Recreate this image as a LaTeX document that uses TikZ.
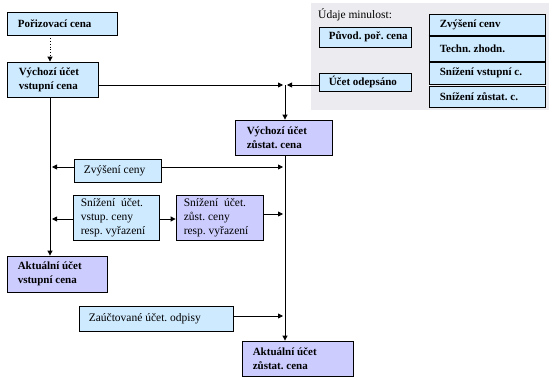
\documentclass[tikz,border=0pt]{standalone}
\usepackage{fontspec}
\setmainfont{Liberation Serif}
\usetikzlibrary{arrows.meta,calc}
\definecolor{lblue}{RGB}{206,234,255}
\definecolor{lav}{RGB}{204,204,255}
\definecolor{bgray}{RGB}{236,236,240}
\tikzset{
  bx/.style={draw=black, line width=0.8pt, inner sep=0pt, anchor=center},
  bt/.style={font=\fontsize{11}{14}\selectfont\bfseries\frenchspacing, align=left, anchor=west, inner sep=0pt},
  nt/.style={font=\fontsize{11.5}{14}\selectfont\frenchspacing, align=left, anchor=west, inner sep=0pt},
  arr/.style={line width=0.8pt, -{Triangle[length=5pt,width=5pt]}},
}
\begin{document}
\begin{tikzpicture}[x=1pt,y=-1pt]
\useasboundingbox (0,0) rectangle (555,380);
% gray region
\fill[bgray] (311,3) rectangle (549,110);
\node[nt, anchor=base west] (um) at (318,18) {Údaje minulost:};
% boxes
\node[bx, fill=lblue, minimum width=110, minimum height=23] (por) at (62,23.5) {};
\node[bt] (por-t) at ($(por.west)+(11,0)$) {Pořizovací cena};
\node[bx, fill=lblue, minimum width=91, minimum height=35] (vvc) at (52.5,79.5) {};
\node[bt] (vvc-t) at ($(vvc.west)+(12,0)$) {Výchozí účet\\vstupní cena};
\node[bx, fill=lav, minimum width=97, minimum height=35] (vzc) at (283.5,137.5) {};
\node[bt] (vzc-t) at ($(vzc.west)+(12,0)$) {Výchozí účet\\zůstat. cena};
\node[bx, fill=lblue, minimum width=87, minimum height=23] (zc) at (117.5,170.5) {};
\node[nt] (zc-t) at ($(zc.west)+(10,0)$) {Zvýšení ceny};
\node[bx, fill=lblue, minimum width=86, minimum height=45] (svc) at (116,217.5) {};
\node[nt] (svc-t) at ($(svc.west)+(8,0)$) {Snížení~ účet.\\vstup. ceny\\resp. vyřazení};
\node[bx, fill=lav, minimum width=87, minimum height=45] (szc) at (219.5,217.5) {};
\node[nt] (szc-t) at ($(szc.west)+(8,0)$) {Snížení~ účet.\\zůst. ceny\\resp. vyřazení};
\node[bx, fill=lav, minimum width=100, minimum height=36] (avc) at (57,274) {};
\node[bt] (avc-t) at ($(avc.west)+(11,0)$) {Aktuální účet\\vstupní cena};
\node[bx, fill=lblue, minimum width=154, minimum height=25] (zuo) at (156,318.5) {};
\node[nt] (zuo-t) at ($(zuo.west)+(10,0)$) {Zaúčtované účet. odpisy};
\node[bx, fill=lav, minimum width=111, minimum height=35] (azc) at (297.5,358.5) {};
\node[bt] (azc-t) at ($(azc.west)+(11,0)$) {Aktuální účet\\zůstat. cena};
\node[bx, fill=lblue, minimum width=92, minimum height=20] (ppc) at (365,37) {};
\node[bt] (ppc-t) at ($(ppc.west)+(10,0)$) {Původ. poř. cena};
\node[bx, fill=lblue, minimum width=92, minimum height=18] (uo) at (365,82) {};
\node[bt] (uo-t) at ($(uo.west)+(10,0)$) {Účet odepsáno};
\node[bx, fill=lblue, minimum width=116, minimum height=22] (r1) at (487,25) {};
\node[bt] (r1-t) at ($(r1.west)+(11,0)$) {Zvýšení cenv};
\node[bx, fill=lblue, minimum width=116, minimum height=25] (r2) at (487,48.5) {};
\node[bt] (r2-t) at ($(r2.west)+(11,0)$) {Techn. zhodn.};
\node[bx, fill=lblue, minimum width=116, minimum height=22] (r3) at (487,73) {};
\node[bt] (r3-t) at ($(r3.west)+(11,0)$) {Snížení vstupní c.};
\node[bx, fill=lblue, minimum width=116, minimum height=21] (r4) at (487,96.5) {};
\node[bt] (r4-t) at ($(r4.west)+(11,0)$) {Snížení zůstat. c.};
\draw[line width=2pt] (r1.south west) -- (r1.south east);
% helper coordinates
\coordinate (lx) at (50,0);
\coordinate (rx) at (285,0);
\coordinate (j1) at (285,85);
\coordinate (jl) at (283,85);
\coordinate (jr) at (287,85);
% connectors
\draw[arr, dotted] (por.south -| lx) -- (vvc.north -| lx);
\draw[arr] (vvc.east |- j1) -- (jl);
\draw[arr] (uo.west |- j1) -- (jr);
\draw[arr] (j1) -- (vzc.north -| j1);
\draw[arr] (vvc.south -| lx) -- (avc.north -| lx);
\draw[arr] (vzc.south -| rx) -- (azc.north -| rx);
\coordinate (y1) at (0,167);
\coordinate (y2) at (0,219);
\coordinate (y3) at (0,214);
\coordinate (y4) at (0,316);
\draw[arr] (zc.west |- y1) -- ($(lx |- y1)+(2,0)$);
\draw[arr] (zc.east |- y1) -- ($(rx |- y1)+(-2,0)$);
\draw[arr] (svc.west |- y2) -- ($(lx |- y2)+(2,0)$);
\draw[arr] (svc.east |- y2) -- (szc.west |- y2);
\draw[arr] (szc.east |- y3) -- ($(rx |- y3)+(-2,0)$);
\draw[arr] (zuo.east |- y4) -- ($(rx |- y4)+(-2,0)$);
\end{tikzpicture}
\end{document}
